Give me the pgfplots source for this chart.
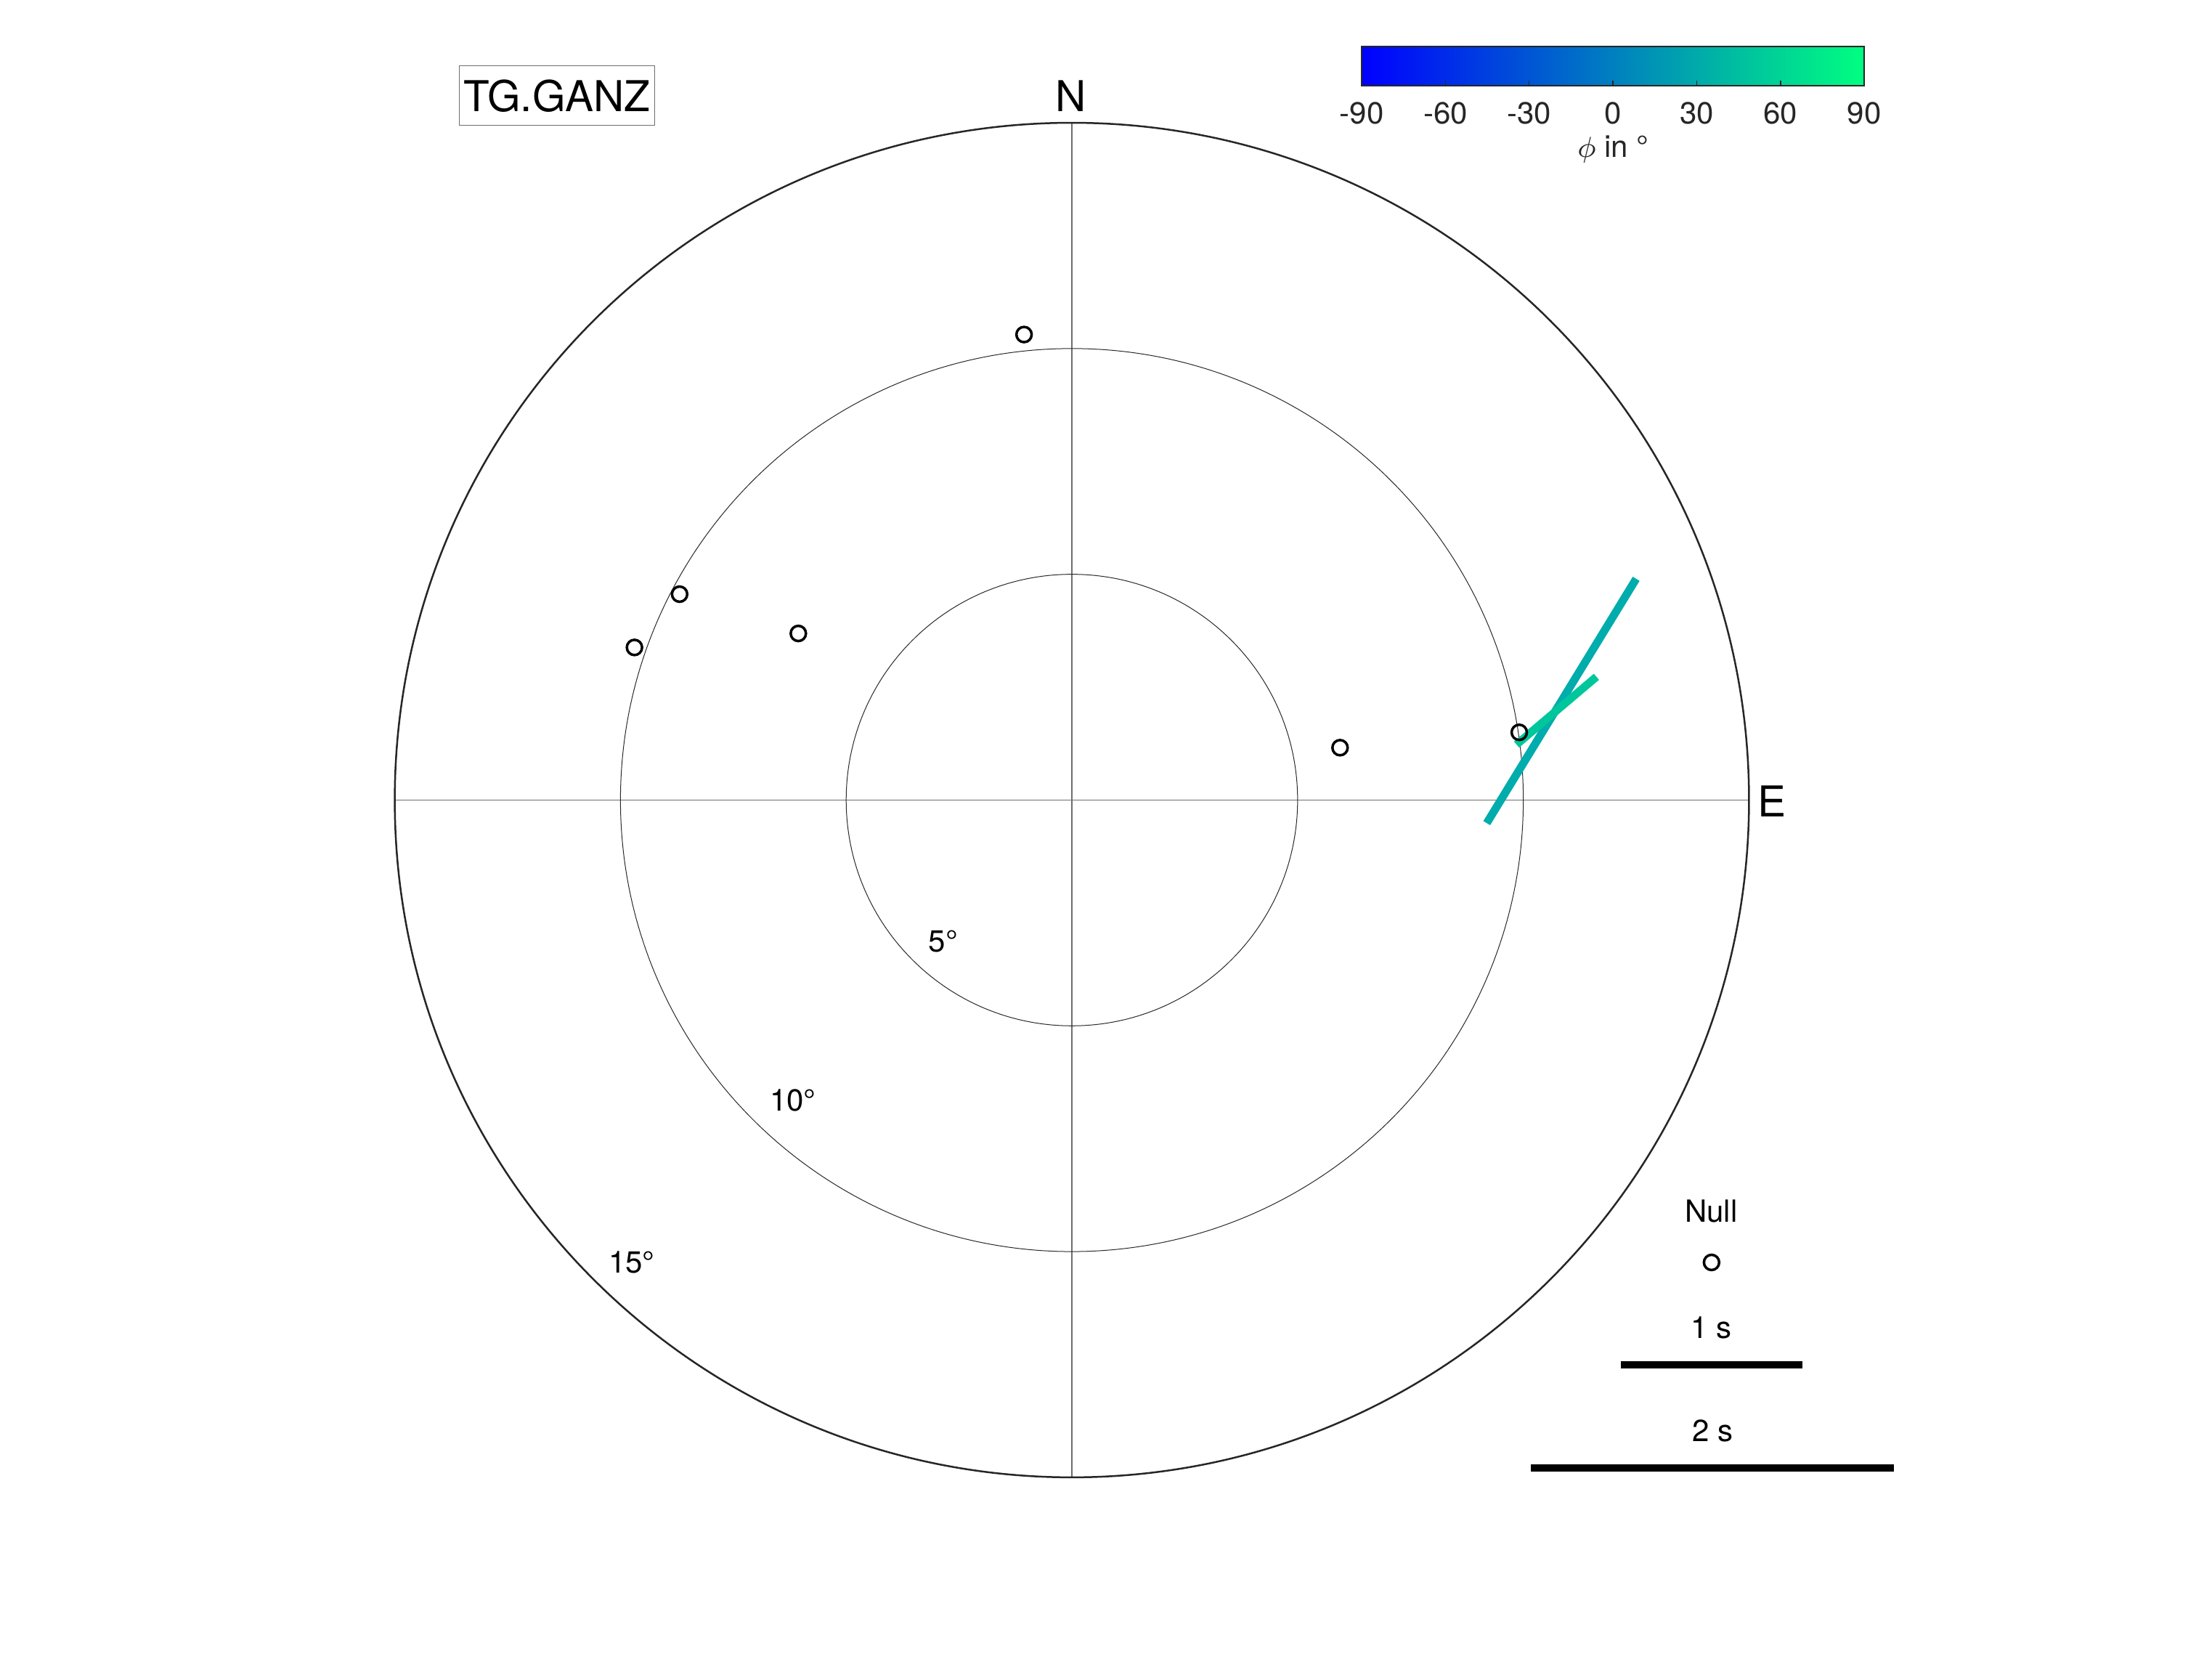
\documentclass[border=0pt]{standalone}
\usepackage{fontspec}
\setmainfont{TeX Gyre Heros}
\usepackage{pgfplots}
\pgfplotsset{compat=1.18}
\definecolor{cbgray}{RGB}{38,38,38}
\definecolor{gridgray}{RGB}{110,110,110}
\definecolor{ringgray}{RGB}{40,40,40}
\definecolor{barA}{RGB}{0,172,172}
\definecolor{barB}{RGB}{0,198,156}
\newcommand{\bigf}{\fontsize{11.7}{14}\selectfont}
\newcommand{\smallf}{\fontsize{8.4}{10}\selectfont}
\begin{document}
\begin{tikzpicture}
\begin{axis}[
  scale only axis,
  x=12.432pt, y=12.432pt,
  xmin=-23.745, xmax=25.257,
  ymin=-19.02, ymax=17.72,
  hide axis,
  clip=false,
  colormap={winter}{rgb255=(0,0,255) rgb255=(0,255,128)},
  point meta min=-90, point meta max=90,
  colorbar horizontal,
  colorbar style={
    at={(parent axis.north west)}, anchor=north west,
    xshift=375pt, yshift=-4.26pt,
    width=138.4pt, height=10.8pt,
    xtick={-90,-60,-30,0,30,60,90},
    xticklabels={-90,-60,-30,0,30,60,90},
    xtick pos=left,
    tick align=inside,
    major tick length=1.4pt,
    xtick style={cbgray, line width=0.3pt},
    axis line style={cbgray, line width=0.4pt},
    xticklabel style={font=\smallf, text=cbgray, anchor=center, yshift=-7.5pt},
    ytick=\empty,
  },
]
% bounding box of the whole picture
\path (rel axis cs:0,0) rectangle (rel axis cs:1,1);
% grid
\draw[gridgray, line width=0.3pt] (axis cs:-15,0) -- (axis cs:15,0);
\draw[gridgray, line width=0.3pt] (axis cs:0,-15) -- (axis cs:0,15);
\draw[ringgray, line width=0.2pt] (axis cs:0,0) circle[radius=62.16pt];
\draw[ringgray, line width=0.2pt] (axis cs:0,0) circle[radius=124.32pt];
\draw[cbgray, line width=0.5pt] (axis cs:0,0) circle[radius=186.48pt];
% labels
\node[font=\bigf] at (axis cs:-0.03,15.59) {N};
\node[font=\bigf] at (axis cs:15.51,-0.02) {E};
\node[font=\smallf] at (axis cs:-2.85,-3.13) {5°};
\node[font=\smallf] at (axis cs:-6.18,-6.65) {10°};
\node[font=\smallf] at (axis cs:-9.75,-10.24) {15°};
\node[font=\bigf, draw=gridgray, line width=0.2pt, minimum width=53.8pt, minimum height=16.4pt, inner sep=0pt] at (axis cs:-11.41,15.60) {TG.GANZ};
\node[font=\smallf, text=cbgray] at (axis cs:11.99,14.41) {$\phi$ in °};
% splitting measurements
\addplot[barA, line width=2.2pt] coordinates {(9.19,-0.51) (12.50,4.90)};
\addplot[barB, line width=2.2pt] coordinates {(9.85,1.23) (11.62,2.73)};
% nulls
\addplot[only marks, mark=o, mark size=2.1pt, mark options={black, line width=0.7pt}] coordinates {
  (-1.06,10.31) (-8.69,4.56) (-9.69,3.38) (-6.06,3.69) (5.94,1.16) (9.91,1.50)};
% legend
\node[font=\smallf] at (axis cs:14.16,-9.11) {Null};
\addplot[only marks, mark=o, mark size=2.1pt, mark options={black, line width=0.7pt}] coordinates {(14.17,-10.24)};
\node[font=\smallf] at (axis cs:14.17,-11.69) {1 s};
\addplot[black, line width=2pt] coordinates {(12.16,-12.507) (16.18,-12.507)};
\node[font=\smallf] at (axis cs:14.19,-13.97) {2 s};
\addplot[black, line width=2pt] coordinates {(10.17,-14.79) (18.21,-14.79)};
\end{axis}
\end{tikzpicture}
\end{document}
